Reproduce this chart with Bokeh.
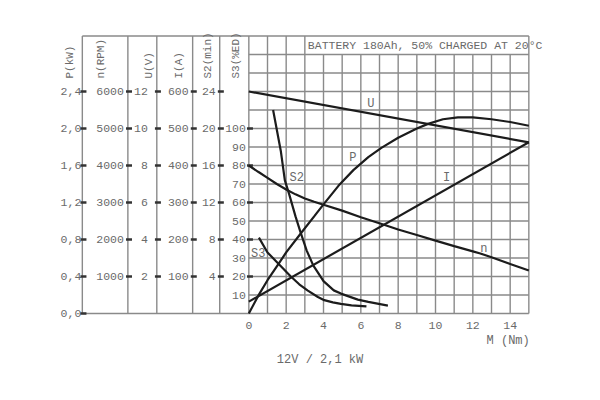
import numpy as np
from bokeh.plotting import figure
from bokeh.models import Range1d
from bokeh.embed import file_html
from bokeh.resources import INLINE
from bokeh.core.properties import value

# ---------------- data ----------------
M_TICKS = [0, 2, 4, 6, 8, 10, 12, 14]
P_TICKS = [0.0, 0.4, 0.8, 1.2, 1.6, 2.0, 2.4]
P_LABELS = ["0,0", "0,4", "0,8", "1,2", "1,6", "2,0", "2,4"]
N_TICKS = [1000, 2000, 3000, 4000, 5000, 6000]
U_TICKS = [2, 4, 6, 8, 10, 12]
I_TICKS = [100, 200, 300, 400, 500, 600]
S2_TICKS = [4, 8, 12, 16, 20, 24]
S3_TICKS = [10, 20, 30, 40, 50, 60, 70, 80, 90, 100]
S3_MARKED = [20, 40, 60, 80, 100]

# U (V) vs M (Nm)
u_m = [0, 15]
u_v = [12.0, 9.25]
# I (A)
i_m = [0, 15]
i_a = [32, 463]
# P (kW)
p_m = [0, 0.5, 1.0, 1.6, 2.0, 2.8, 3.5, 4.0, 4.8, 5.6, 6.4, 7.1, 8.0, 9.0, 9.6,
       10.4, 11.2, 12.0, 13.0, 14.0, 15.0]
p_kw = [0.0, 0.19, 0.36, 0.54, 0.66, 0.87, 1.05, 1.18, 1.38, 1.55, 1.69, 1.79, 1.90,
        2.00, 2.05, 2.10, 2.12, 2.12, 2.10, 2.07, 2.03]
# n (RPM)
n_m = [0, 0.5, 1, 1.5, 2, 2.5, 3, 3.5, 4, 5, 6, 7.2, 8, 9, 10, 11, 12, 12.4, 13, 14, 15]
n_rpm = [4000, 3830, 3665, 3500, 3350, 3220, 3110, 3020, 2940, 2780, 2603, 2405, 2270,
         2120, 1970, 1820, 1680, 1622, 1520, 1340, 1160]
# S2 (min)
s2_m = [1.3, 1.71, 1.93, 2.16, 2.5, 2.75, 3.1, 3.45, 4.0, 4.55, 4.93, 5.84, 6.4, 7.45]
s2_min = [22.0, 17.6, 14.4, 12.9, 10.5, 8.9, 6.8, 5.2, 3.5, 2.5, 2.15, 1.5, 1.25, 0.86]
# S3 (%ED)
s3_m = [0.54, 1.0, 1.6, 2.25, 2.7, 3.16, 3.7, 4.04, 4.5, 4.93, 5.5, 6.3]
s3_ed = [41, 33, 26.8, 20, 15.8, 12.4, 8.9, 7.2, 6.0, 5.2, 4.4, 3.8]

# ---------------- layout ----------------
PX_X = 18.667            # px per Nm
PX_Y = 1.85              # px per S3 unit
X0 = -11.0
FW = 526
X1 = X0 + FW / PX_X
FH = 355
Y1 = (313 - 20) / PX_Y
Y0 = Y1 - FH / PX_Y

TEXT = "#6a6a6a"
GRID = "#8a8a8a"
CURVE = "#1c1c1c"
FONT = value("Liberation Mono")

p = figure(frame_width=FW, frame_height=FH, min_border_left=43, min_border_top=20,
           min_border_right=10, min_border_bottom=10,
           x_range=Range1d(X0, X1), y_range=Range1d(Y0, Y1),
           x_axis_location=None, y_axis_location=None,
           toolbar_location=None, output_backend="svg")
p.outline_line_color = None
p.grid.visible = False
p.background_fill_color = "white"

# scale factors relative to the S3 (%ED) base range
FACT = {"P": 1 / 50, "n": 50, "U": 1 / 10, "I": 5, "S2": 1 / 5}
for k, f in FACT.items():
    p.extra_y_ranges[k] = Range1d(Y0 * f, Y1 * f)

AX = {"P": -8.92, "n": -6.48, "U": -4.93, "I": -3.01, "S2": -1.56, "S3": 0.0}

# grid
vx = list(range(16))
p.segment(x0=vx, y0=[0] * 16, x1=vx,
          y1=[150 if m in (0, 1, 2, 3, 15) else 140 for m in vx],
          line_color=GRID, line_width=1.4)
hy = list(range(0, 151, 10))
p.segment(x0=[AX["P"] if y in (0, 150) else 0 for y in hy], y0=hy,
          x1=[15] * len(hy), y1=hy, line_color=GRID, line_width=1.4)
# left axis lines
ax_x = [AX[k] for k in ("P", "n", "U", "I", "S2")]
p.segment(x0=ax_x, y0=[0] * 5, x1=ax_x, y1=[150] * 5, line_color=GRID, line_width=1.4)


def txt(x, y, t, rn="default", align="right", xoff=0, yoff=0, angle=0, size="11.5px",
        baseline="middle"):
    p.text(x=x, y=y, text=t, y_range_name=rn, text_align=align,
           text_baseline=baseline, x_offset=xoff, y_offset=yoff, angle=angle,
           text_font=FONT, text_font_size=size, text_color=TEXT)


def ticks(x, ys, rn):
    p.scatter(x=[x + 0.06] * len(ys), y=ys, marker="dash", size=6, line_width=2.5,
              line_color="#333333", y_range_name=rn)


# left scales
txt([AX["P"]] * 7, P_TICKS, P_LABELS, "P", xoff=-1)
ticks(AX["P"], P_TICKS, "P")
txt([AX["n"]] * 6, N_TICKS, [str(v) for v in N_TICKS], "n", xoff=-4)
ticks(AX["n"], N_TICKS, "n")
txt([AX["U"]] * 6, U_TICKS, [str(v) for v in U_TICKS], "U", xoff=-9)
ticks(AX["U"], U_TICKS, "U")
txt([AX["I"]] * 6, I_TICKS, [str(v) for v in I_TICKS], "I", xoff=-4)
ticks(AX["I"], I_TICKS, "I")
txt([AX["S2"]] * 6, S2_TICKS, [str(v) for v in S2_TICKS], "S2", xoff=-4)
ticks(AX["S2"], S2_TICKS, "S2")
txt([AX["S3"]] * 10, S3_TICKS, [str(v) for v in S3_TICKS], "default", xoff=-3)
ticks(AX["S3"], S3_MARKED, "default")

# axis titles (rotated)
TITLES = ["P(kW)", "n(RPM)", "U(V)", "I(A)", "S2(min)", "S3(%ED)"]
title_x = [-9.59, -7.93, -5.36, -3.75, -2.2, -0.70]
txt(title_x, [127.0] * 6, TITLES, align="left", angle=np.pi / 2, size="11px")

# bottom scale
txt(M_TICKS, [-6.5] * len(M_TICKS), [str(v) for v in M_TICKS], align="center")
txt([15.05], [-15.1], ["M (Nm)"], align="right", size="12px")
txt([1.5], [-24.9], ["12V / 2,1 kW"], align="left", size="12px")
txt([3.16], [144.9], ["BATTERY 180Ah, 50% CHARGED AT 20°C"], align="left", size="11.5px")

# curves
p.line(u_m, u_v, y_range_name="U", line_color=CURVE, line_width=2.2)
p.line(i_m, i_a, y_range_name="I", line_color=CURVE, line_width=2.2)
p.line(p_m, p_kw, y_range_name="P", line_color=CURVE, line_width=2.2)
p.line(n_m, n_rpm, y_range_name="n", line_color=CURVE, line_width=2.2)
p.line(s2_m, s2_min, y_range_name="S2", line_color=CURVE, line_width=2.2)
p.line(s3_m, s3_ed, line_color=CURVE, line_width=2.2)

# curve labels
txt([6.54, 5.57, 2.57, 10.6, 12.59, 0.5], [113, 84.3, 73.5, 73.5, 35.1, 32.4],
    ["U", "P", "S2", "I", "n", "S3"], align="center", size="12px")

open("out.html", "w").write(file_html(p, INLINE))
